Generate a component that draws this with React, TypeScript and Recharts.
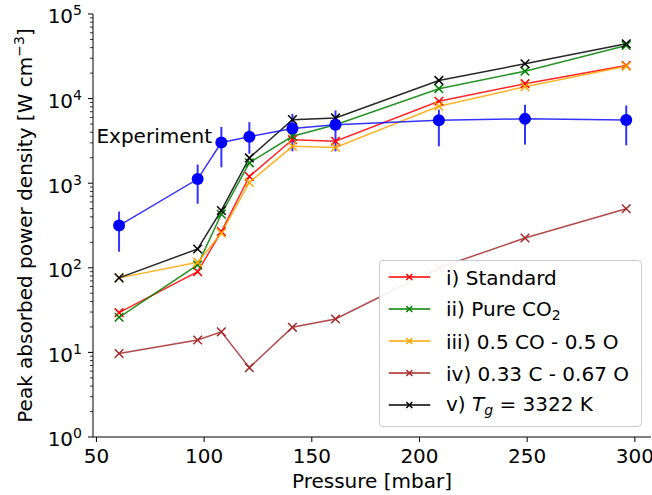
import React from "react";
import {
  LineChart,
  Line,
  XAxis,
  YAxis,
  ErrorBar,
  Legend,
  ReferenceDot,
} from "recharts";

// pressure [mbar]
const pressure = [60.5, 97, 108, 121, 141, 161, 209, 249, 296];

// measured peak power density and error range
const experiment = [316, 1120, 3030, 3550, 4420, 4900, 5540, 5760, 5600];
const experimentLow = [155, 571, 1540, 2230, 2380, 2380, 2730, 2860, 2800];
const experimentHigh = [463, 1660, 4630, 5260, 6600, 7240, 7420, 8440, 8280];

// model cases
const standard = [29.5, 90, 268, 1200, 3270, 3130, 9300, 15000, 24600];
const pureCO2 = [26, 108, 430, 1740, 3590, 4920, 13100, 21100, 42500];
const coO = [76, 116, 257, 1020, 2730, 2650, 8130, 13800, 24100];
const cO = [9.7, 14, 17.5, 6.6, 19.8, 24.8, 100, 225, 499];
const tg = [76, 167, 476, 1990, 5640, 5910, 16400, 25800, 44500];

const xTicks = [50, 100, 150, 200, 250, 300];
const yTicks = [1, 10, 100, 1000, 10000, 100000];
const yMinorTicks = [1, 10, 100, 1000, 10000].flatMap((d) =>
  [2, 3, 4, 5, 6, 7, 8, 9].map((m) => m * d)
);

const series = [
  { key: "std", color: "#ff0000", label: <>i) Standard</> },
  {
    key: "co2",
    color: "#008000",
    label: (
      <>
        ii) Pure CO<sub style={{ fontSize: 14, verticalAlign: "-4px" }}>2</sub>
      </>
    ),
  },
  { key: "coO", color: "#ffa500", label: <>iii) 0.5 CO - 0.5 O</> },
  { key: "cO", color: "#a52a2a", label: <>iv) 0.33 C - 0.67 O</> },
  {
    key: "tg",
    color: "#000000",
    label: (
      <>
        v) <i>T</i>
        <sub style={{ fontSize: 14, verticalAlign: "-4px" }}>
          <i>g</i>
        </sub>
        {" = 3322 K"}
      </>
    ),
  },
];

const data = pressure.map((p, i) => ({
  p,
  exp: experiment[i],
  expErr: [experiment[i] - experimentLow[i], experimentHigh[i] - experiment[i]],
  std: standard[i],
  co2: pureCO2[i],
  coO: coO[i],
  cO: cO[i],
  tg: tg[i],
}));

const crossDot = (color: string, half = 4.3) => (props: any) => {
  const { cx, cy, index } = props;
  if (cx == null || cy == null) return <g key={index} />;
  return (
    <path
      key={index}
      d={`M${cx - half},${cy - half}L${cx + half},${cy + half}M${cx - half},${cy + half}L${cx + half},${cy - half}`}
      stroke={color}
      strokeWidth={1.5}
      fill="none"
    />
  );
};

const YTick = (props: any) => {
  const { x, y, payload } = props;
  const v = payload.value;
  const exp = Math.round(Math.log10(v));
  const major = Math.abs(v - Math.pow(10, exp)) < 1e-6 * v;
  const axisX = x + 11;
  return (
    <g>
      <line
        x1={axisX - (major ? 5 : 3)}
        x2={axisX}
        y1={y}
        y2={y}
        stroke="#000"
        strokeWidth={major ? 1 : 0.8}
      />
      {major && (
        <text x={x} y={y + 9.3} textAnchor="end" fontSize={20} fill="#000">
          10
          <tspan dy={-8} fontSize={14}>
            {exp}
          </tspan>
        </text>
      )}
    </g>
  );
};

const YLabel = () => {
  const cx = 31.5;
  const cy = 225.5;
  return (
    <text
      x={cx}
      y={cy}
      transform={`rotate(-90 ${cx} ${cy})`}
      textAnchor="middle"
      fontSize={20}
      fill="#000"
    >
      Peak absorbed power density [W cm
      <tspan dy={-8} fontSize={14}>
        −3
      </tspan>
      <tspan dy={8}>]</tspan>
    </text>
  );
};

const renderLegend = () => (
  <div
    style={{
      boxSizing: "border-box",
      width: 263,
      height: 167,
      border: "1px solid #cccccc",
      borderRadius: 4,
      background: "rgba(255,255,255,0.93)",
      paddingTop: 1,
      fontSize: 20,
      color: "#000",
    }}
  >
    {series.map((s) => (
      <div
        key={s.key}
        style={{ display: "flex", alignItems: "center", height: 31.8 }}
      >
        <svg width={66} height={20} style={{ flex: "none" }}>
          <line x1={8.7} x2={50.3} y1={10} y2={10} stroke={s.color} strokeWidth={1.5} />
          <path d="M26.3,7L32.3,13M26.3,13L32.3,7" stroke={s.color} strokeWidth={1.5} />
        </svg>
        <span style={{ lineHeight: 1, paddingTop: 2, whiteSpace: "nowrap" }}>
          {s.label}
        </span>
      </div>
    ))}
  </div>
);

export default function App() {
  return (
    <div
      style={{
        position: "absolute",
        left: 0,
        top: 0,
        width: 652,
        height: 495,
        background: "#ffffff",
        fontFamily: '"DejaVu Sans", sans-serif',
      }}
    >
      <LineChart
        width={652}
        height={495}
        data={data}
        margin={{ top: 14, right: 1, bottom: 0, left: 0 }}
      >
        <XAxis
          dataKey="p"
          type="number"
          domain={[48.4, 307.5]}
          ticks={xTicks}
          interval={0}
          allowDataOverflow
          height={58}
          tickSize={5}
          tickMargin={7}
          tick={{ fontSize: 20, fill: "#000" }}
          stroke="#000"
          label={{
            value: "Pressure [mbar]",
            position: "insideBottom",
            offset: 7,
            fontSize: 20,
            fill: "#000",
          }}
        />
        <XAxis
          xAxisId="top"
          orientation="top"
          type="number"
          domain={[48.4, 307.5]}
          height={0}
          tick={false}
          tickLine={false}
          stroke="#000"
        />
        <YAxis
          scale="log"
          type="number"
          domain={[1, 100000]}
          ticks={[...yTicks, ...yMinorTicks].sort((a, b) => a - b)}
          interval={0}
          allowDataOverflow
          width={93}
          tickSize={5}
          tickMargin={6}
          tickLine={false}
          tick={<YTick />}
          stroke="#000"
          label={{ content: <YLabel /> }}
        />
        <YAxis
          yAxisId="right"
          orientation="right"
          type="number"
          domain={[0, 1]}
          width={0}
          tick={false}
          tickLine={false}
          stroke="#000"
        />
        {series.map((s) => (
          <Line
            key={s.key}
            type="linear"
            dataKey={s.key}
            stroke={s.color}
            strokeOpacity={0.85}
            strokeWidth={1.5}
            dot={crossDot(s.color)}
            activeDot={false}
            isAnimationActive={false}
          />
        ))}
        <Line
          type="linear"
          dataKey="exp"
          stroke="#0000ff"
          strokeOpacity={0.8}
          strokeWidth={1.5}
          dot={{ r: 6, fill: "#0000ff", stroke: "none", fillOpacity: 1 }}
          activeDot={false}
          isAnimationActive={false}
        >
          <ErrorBar
            dataKey="expErr"
            direction="y"
            width={0}
            stroke="#0000ff"
            strokeOpacity={0.8}
            strokeWidth={2}
            isAnimationActive={false}
          />
        </Line>
        <ReferenceDot
          x={50}
          y={3000}
          r={0}
          fill="none"
          stroke="none"
          label={{
            content: (p: any) => (
              <text x={p.viewBox.x} y={p.viewBox.y} fontSize={20} fill="#000">
                Experiment
              </text>
            ),
          }}
        />
        <Legend
          layout="vertical"
          align="center"
          verticalAlign="middle"
          wrapperStyle={{
            left: 379,
            top: 259.5,
            width: 263,
            height: 167,
            zIndex: 10,
          }}
          content={renderLegend}
        />
      </LineChart>
    </div>
  );
}
